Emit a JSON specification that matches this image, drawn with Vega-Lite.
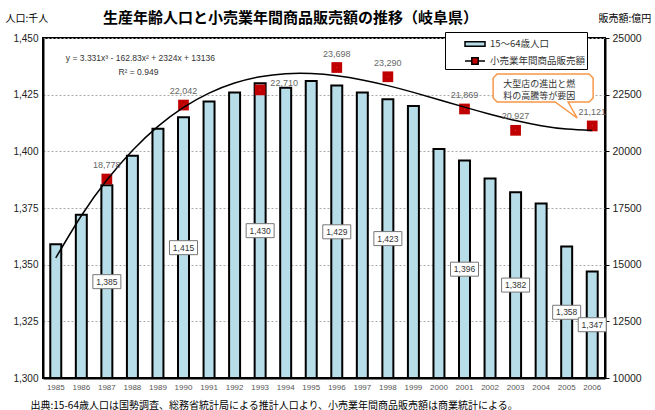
{
  "$schema": "https://vega.github.io/schema/vega-lite/v6.json",
  "width": 562,
  "height": 340,
  "autosize": "none",
  "padding": {"left": 43, "top": 38, "right": 50, "bottom": 32},
  "background": "white",
  "title": {
    "text": "生産年齢人口と小売業年間商品販売額の推移（岐阜県）",
    "anchor": "start",
    "frame": "group",
    "dx": 60,
    "offset": -13,
    "font": "Noto Sans CJK JP",
    "fontSize": 15,
    "fontWeight": "bold",
    "color": "black"
  },
  "data": {
    "values": [
      {"year": "1985", "pop": 1359, "sales": null, "trend": 15300},
      {"year": "1986", "pop": 1372, "sales": null, "trend": 17159},
      {"year": "1987", "pop": 1385, "sales": 18778, "trend": 18733},
      {"year": "1988", "pop": 1398, "sales": null, "trend": 20040},
      {"year": "1989", "pop": 1410, "sales": null, "trend": 21102},
      {"year": "1990", "pop": 1415, "sales": 22042, "trend": 21938},
      {"year": "1991", "pop": 1422, "sales": null, "trend": 22568},
      {"year": "1992", "pop": 1426, "sales": null, "trend": 23012},
      {"year": "1993", "pop": 1430, "sales": 22710, "trend": 23291},
      {"year": "1994", "pop": 1428, "sales": null, "trend": 23424},
      {"year": "1995", "pop": 1431, "sales": null, "trend": 23431},
      {"year": "1996", "pop": 1429, "sales": 23698, "trend": 23332},
      {"year": "1997", "pop": 1426, "sales": null, "trend": 23148},
      {"year": "1998", "pop": 1423, "sales": 23290, "trend": 22898},
      {"year": "1999", "pop": 1420, "sales": null, "trend": 22601},
      {"year": "2000", "pop": 1401, "sales": null, "trend": 22279},
      {"year": "2001", "pop": 1396, "sales": 21869, "trend": 21951},
      {"year": "2002", "pop": 1388, "sales": null, "trend": 21638},
      {"year": "2003", "pop": 1382, "sales": 20927, "trend": 21358},
      {"year": "2004", "pop": 1377, "sales": null, "trend": 21132},
      {"year": "2005", "pop": 1358, "sales": null, "trend": 20981},
      {"year": "2006", "pop": 1347, "sales": 21121, "trend": 20923}
    ]
  },
  "encoding": {
    "x": {
      "field": "year",
      "type": "ordinal",
      "scale": {"paddingInner": 0.57, "paddingOuter": 0.285},
      "axis": {
        "labelAngle": 0,
        "labelFontSize": 8,
        "labelColor": "#555",
        "labelPadding": 5,
        "ticks": false,
        "domainColor": "black",
        "domainWidth": 2,
        "title": "出典:15-64歳人口は国勢調査、総務省統計局による推計人口より、小売業年間商品販売額は商業統計による。",
        "titleX": -13,
        "titleY": 27,
        "titleAlign": "left",
        "titleBaseline": "middle",
        "titleFont": "Noto Sans CJK JP",
        "titleFontSize": 10,
        "titleFontWeight": "normal",
        "titleColor": "black"
      }
    }
  },
  "layer": [
    {
      "mark": {"type": "bar", "stroke": "black", "strokeWidth": 2},
      "encoding": {
        "y": {
          "field": "pop",
          "type": "quantitative",
          "scale": {"domain": [1300, 1450], "zero": false, "nice": false},
          "axis": {
            "orient": "left",
            "values": [1300, 1325, 1350, 1375, 1400, 1425, 1450],
            "labelExpr": "format(datum.value, ',')",
            "grid": true,
            "gridColor": "#aaa",
            "gridDash": [2, 2],
            "ticks": false,
            "domainColor": "black",
            "domainWidth": 2,
            "labelFontSize": 10,
            "labelColor": "#222",
            "labelPadding": 5,
            "title": "人口:千人",
            "titleX": -38,
            "titleY": -20,
            "titleAngle": 0,
            "titleAlign": "left",
            "titleBaseline": "middle",
            "titleFont": "Noto Sans CJK JP",
            "titleFontSize": 10,
            "titleFontWeight": "normal",
            "titleColor": "black"
          }
        },
        "y2": {"datum": 1300},
        "color": {
          "datum": "15～64歳人口",
          "scale": {
            "domain": ["15～64歳人口", "小売業年間商品販売額"],
            "range": ["#b7dde8", "#c00000"]
          },
          "legend": {
            "orient": "none",
            "legendX": 402,
            "legendY": -6,
            "title": null,
            "strokeColor": "black",
            "fillColor": "white",
            "padding": 1,
            "rowPadding": -3,
            "symbolSize": 400,
            "symbolOffset": 18,
            "symbolStrokeColor": "black",
            "symbolStrokeWidth": 1.5,
            "labelOffset": 4,
            "labelFont": "Noto Sans CJK JP",
            "labelFontSize": 9.5,
            "labelColor": "#333",
            "labelExpr": "datum.label + '　'"
          }
        }
      }
    },
    {
      "transform": [
        {"filter": {"field": "year", "oneOf": ["1987", "1990", "1993", "1996", "1998", "2001", "2003", "2005", "2006"]}}
      ],
      "encoding": {
        "y": {
          "field": "pop",
          "type": "quantitative",
          "scale": {"domain": [1300, 1600], "zero": false, "nice": false},
          "axis": null
        }
      },
      "layer": [
        {
          "mark": {
            "type": "point",
            "shape": "M-1,-0.5H1V0.5H-1Z",
            "size": 784,
            "filled": true,
            "fill": "white",
            "stroke": "#777",
            "strokeWidth": 1,
            "opacity": 1
          }
        },
        {
          "mark": {"type": "text", "fontSize": 8.5, "color": "#333"},
          "encoding": {"text": {"field": "pop", "type": "quantitative", "format": ","}}
        }
      ]
    },
    {
      "encoding": {
        "y": {
          "type": "quantitative",
          "scale": {"domain": [10000, 25000], "zero": false, "nice": false},
          "axis": {
            "orient": "right",
            "values": [10000, 12500, 15000, 17500, 20000, 22500, 25000],
            "format": "d",
            "grid": false,
            "ticks": true,
            "tickSize": 4,
            "tickColor": "black",
            "domainColor": "black",
            "domainWidth": 2,
            "labelFontSize": 10.5,
            "labelColor": "#222",
            "labelPadding": 3,
            "title": "販売額:億円",
            "titleX": -7,
            "titleY": -20,
            "titleAngle": 0,
            "titleAlign": "left",
            "titleBaseline": "middle",
            "titleFont": "Noto Sans CJK JP",
            "titleFontSize": 10,
            "titleFontWeight": "normal",
            "titleColor": "black"
          }
        }
      },
      "layer": [
        {
          "transform": [{"filter": "datum.sales != null"}],
          "mark": {"type": "point", "shape": "square", "size": 115, "filled": true, "opacity": 1, "strokeWidth": 0},
          "encoding": {
            "y": {"field": "sales"},
            "color": {"datum": "小売業年間商品販売額"}
          }
        },
        {
          "transform": [{"filter": "datum.sales != null"}],
          "mark": {"type": "point", "size": 4, "filled": true, "opacity": 1, "color": "#f09090"},
          "encoding": {
            "y": {"field": "sales"},
            "shape": {
              "datum": "小売業年間商品販売額",
              "scale": {
                "domain": ["15～64歳人口", "小売業年間商品販売額"],
                "range": ["M-1,-0.22H1V0.22H-1Z", "M-1,0H-0.32M0.32,0H1M-0.32,-0.32H0.32V0.32H-0.32Z"]
              },
              "legend": {
                "orient": "none",
                "legendX": 402,
                "legendY": -6,
                "title": null,
                "strokeColor": "black",
                "fillColor": "white",
                "padding": 1,
                "rowPadding": -3,
                "symbolSize": 400,
                "symbolOffset": 18,
                "symbolStrokeColor": "black",
                "symbolStrokeWidth": 1.5,
                "labelOffset": 4,
                "labelFont": "Noto Sans CJK JP",
                "labelFontSize": 9.5,
                "labelColor": "#333",
                "labelExpr": "datum.label + '　'"
              }
            }
          }
        },
        {
          "mark": {"type": "line", "color": "black", "strokeWidth": 1.5, "interpolate": "natural"},
          "encoding": {"y": {"field": "trend"}}
        },
        {
          "transform": [{"filter": "datum.sales != null && datum.year != '1993'"}],
          "mark": {"type": "text", "dy": -14, "fontSize": 9, "color": "#666"},
          "encoding": {
            "y": {"field": "sales"},
            "text": {"field": "sales", "type": "quantitative", "format": ","}
          }
        },
        {
          "transform": [{"filter": "datum.year == '1993'"}],
          "mark": {"type": "text", "dx": 24, "dy": -7, "fontSize": 9, "color": "#666"},
          "encoding": {
            "y": {"field": "sales"},
            "text": {"field": "sales", "type": "quantitative", "format": ","}
          }
        },
        {
          "data": {"values": [{}]},
          "mark": {"type": "text", "dx": 8, "fontSize": 8.5, "color": "#333", "text": "y = 3.331x³ - 162.83x² + 2324x + 13136"},
          "encoding": {"x": {"datum": "1988"}, "y": {"datum": 24118}}
        },
        {
          "data": {"values": [{}]},
          "mark": {"type": "text", "dx": 6, "fontSize": 8.5, "color": "#333", "text": "R² = 0.949"},
          "encoding": {"x": {"datum": "1988"}, "y": {"datum": 23500}}
        }
      ]
    },
    {
      "data": {"values": [{}]},
      "encoding": {
        "x": {"datum": "2004"},
        "y": {
          "type": "quantitative",
          "scale": {"domain": [10000, 25000], "zero": false, "nice": false},
          "axis": null
        }
      },
      "layer": [
        {
          "mark": {
            "type": "point",
            "shape": "M-0.92,-0.28L0.92,-0.28L1,-0.2L1,0.2L0.92,0.28L0.5,0.28L0.68,0.6L0.24,0.28L-0.92,0.28L-1,0.2L-1,-0.2Z",
            "size": 10000,
            "filled": true,
            "fill": "white",
            "stroke": "#f79646",
            "strokeWidth": 1.5,
            "opacity": 1,
            "xOffset": 2
          },
          "encoding": {"y": {"datum": 22794}}
        },
        {
          "mark": {
            "type": "text",
            "align": "left",
            "baseline": "middle",
            "dx": -38,
            "lineHeight": 11.5,
            "font": "Noto Sans CJK JP",
            "fontSize": 9,
            "color": "#333",
            "text": ["大型店の進出と燃", "料の高騰等が要因"]
          },
          "encoding": {"y": {"datum": 22950}}
        }
      ]
    }
  ],
  "resolve": {"scale": {"y": "independent"}},
  "config": {
    "font": "Liberation Sans",
    "view": {"stroke": "black", "strokeWidth": 2}
  }
}
